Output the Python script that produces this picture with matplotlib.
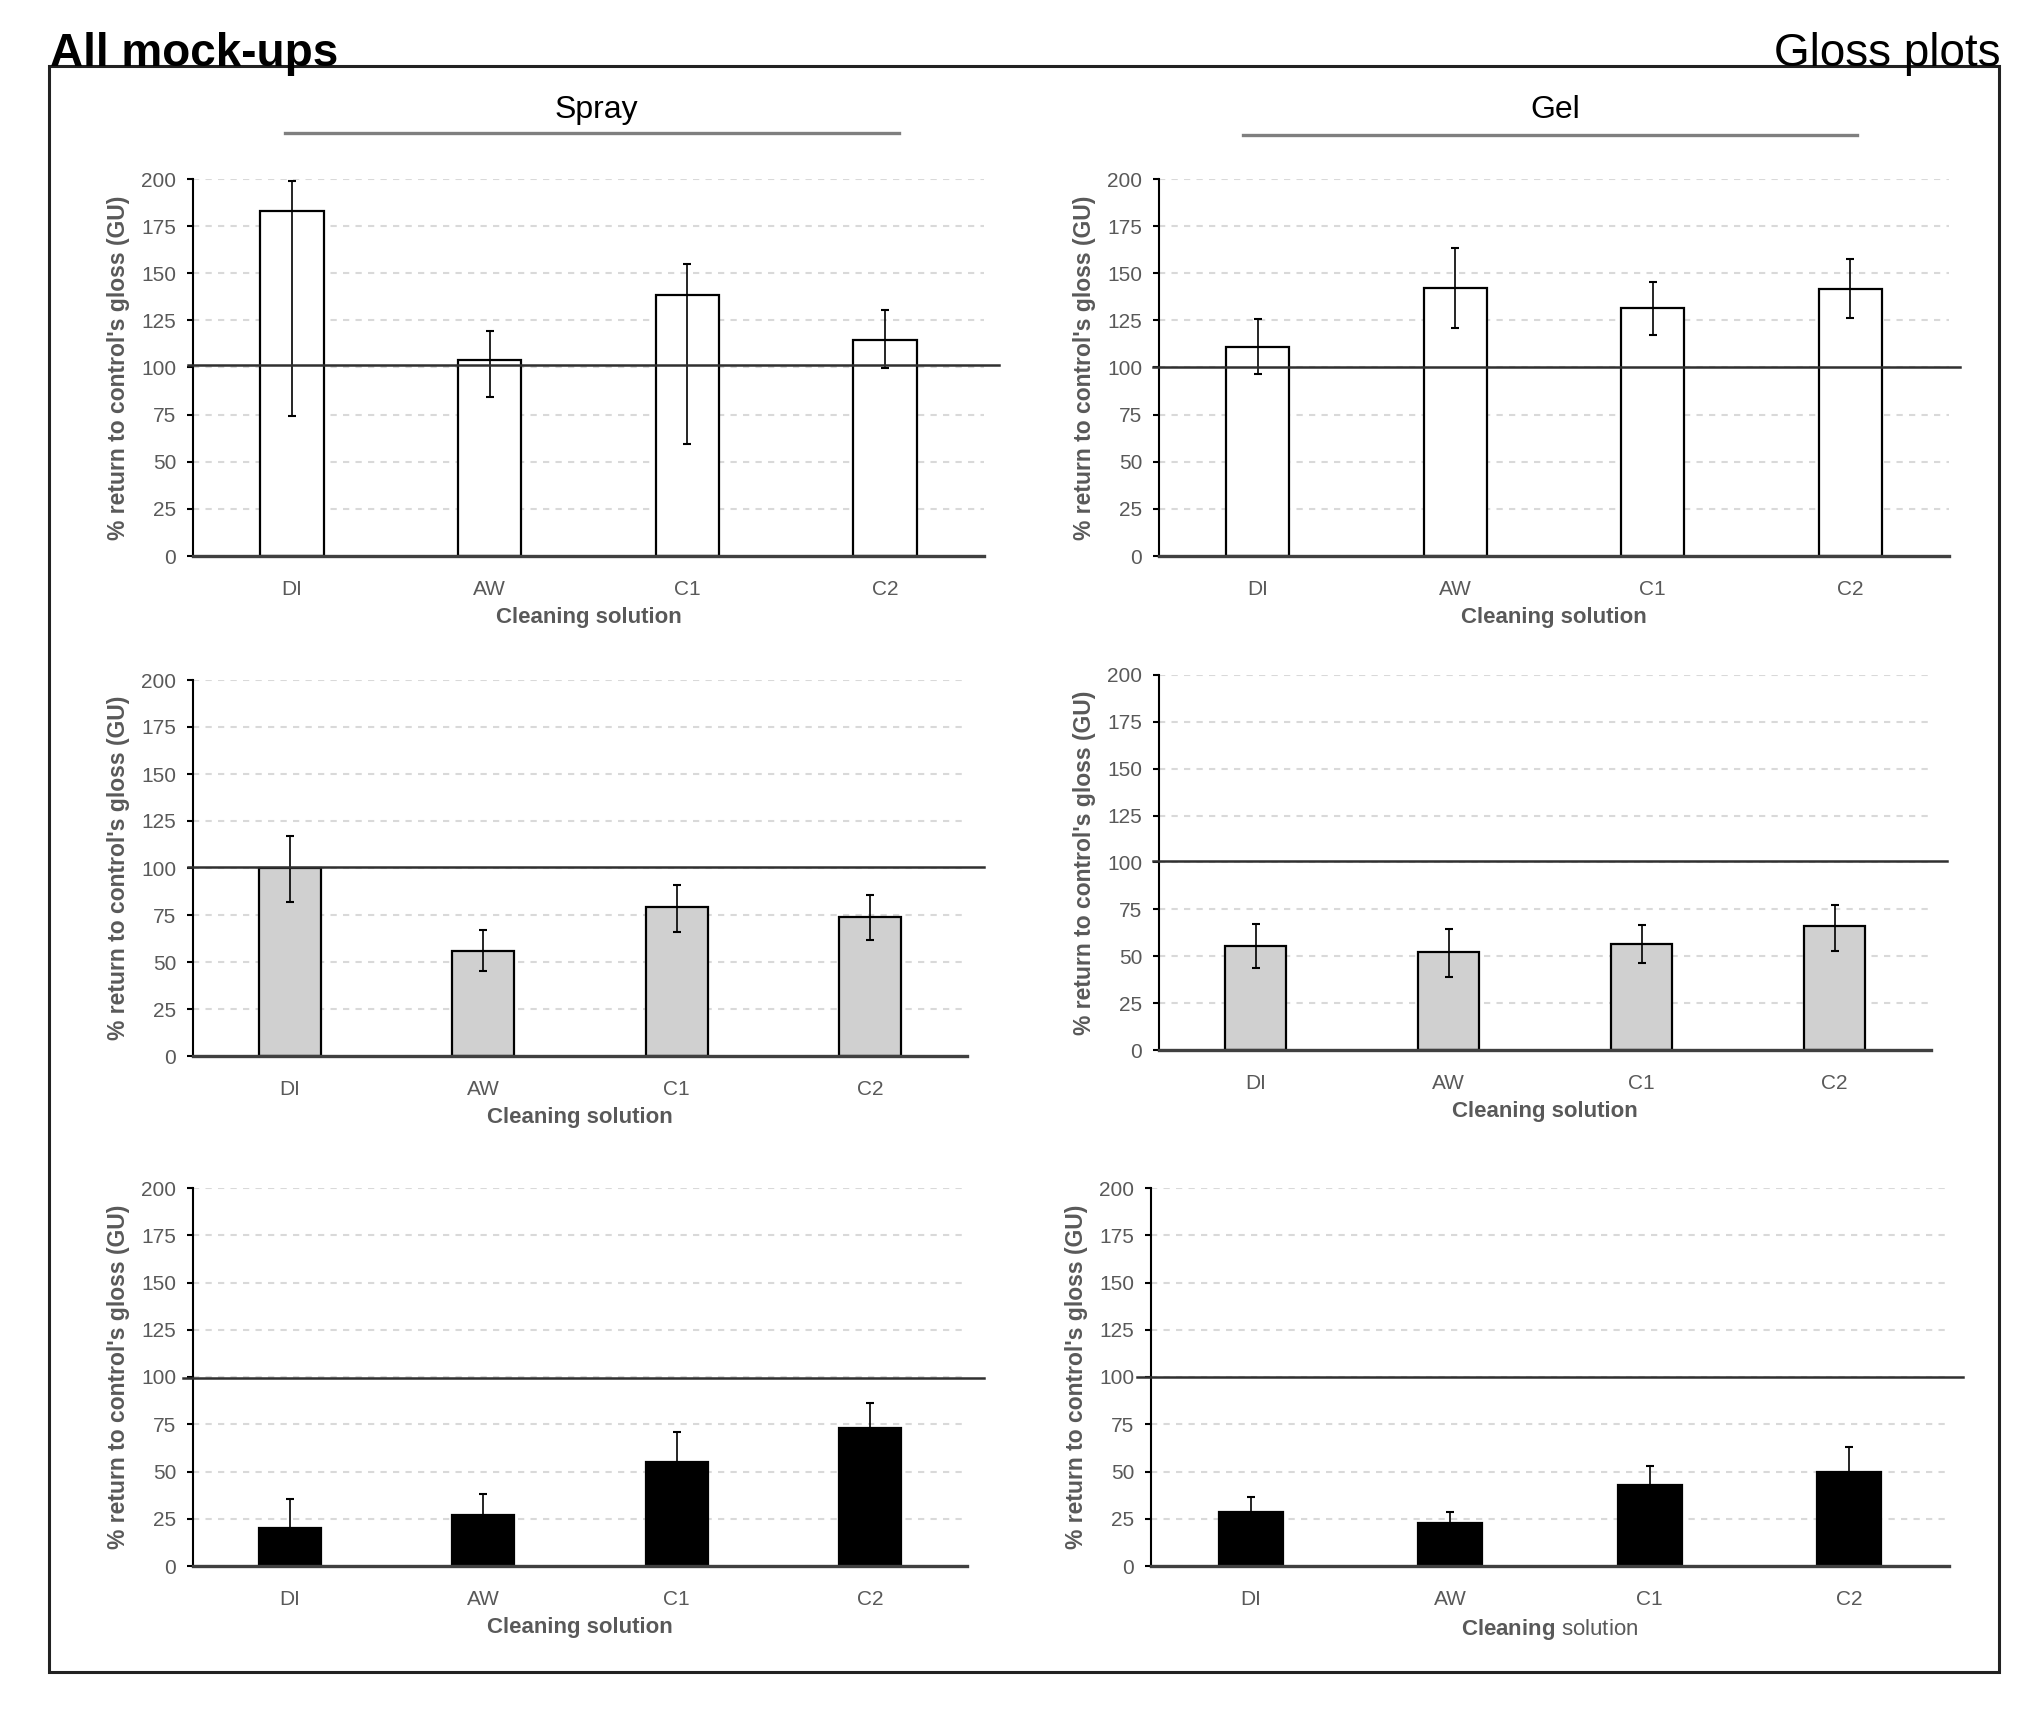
import numpy as np
import matplotlib
matplotlib.use('Agg')
import matplotlib.pyplot as plt
from matplotlib.patches import Rectangle
from matplotlib.lines import Line2D

plt.rcParams['font.family'] = ['Liberation Sans', 'DejaVu Sans']
plt.rcParams['mathtext.fontset'] = 'custom'
plt.rcParams['mathtext.rm'] = 'Liberation Sans'
plt.rcParams['mathtext.bf'] = 'Liberation Sans:bold'

# data
categories = ['DI', 'AW', 'C1', 'C2']

spray_white = [183, 104, 138.5, 114.5]
spray_white_hi = [199, 119.5, 155, 130.5]
spray_white_lo = [74.5, 84.5, 59.5, 99.5]

gel_white = [111, 142, 131.5, 141.5]
gel_white_hi = [125.5, 163.5, 145.5, 157.5]
gel_white_lo = [96.5, 121, 117, 126]

spray_grey = [100, 56, 79, 74]
spray_grey_hi = [117, 67, 91, 85.5]
spray_grey_lo = [82, 45, 66, 61.5]

gel_grey = [55.5, 52, 56.5, 66]
gel_grey_hi = [67, 64.5, 66.5, 77.5]
gel_grey_lo = [43.5, 39, 46.5, 53]

spray_black = [20, 27, 55, 73]
spray_black_hi = [35.5, 38, 71, 86.5]
spray_black_lo = [4.5, 16, 39, 59.5]

gel_black = [28.5, 22.5, 43, 50]
gel_black_hi = [36.5, 28.5, 53, 63]
gel_black_lo = [20.5, 16.5, 33, 37]

ref_levels = [101.3, 100, 100.7, 101, 99.5, 100]
yticks = [0, 25, 50, 75, 100, 125, 150, 175, 200]

W, H = 2028, 1726
fig = plt.figure(figsize=(W / 100, H / 100), dpi=100)

# panel boxes in pixels: left, right, y of 200, y of 0, ref line start/end
boxes = [
    (193, 984, 179, 556, 188, 999),
    (1159, 1949, 179, 556, 1153, 1960),
    (193, 967, 680, 1056, 188, 984),
    (1159, 1931, 675, 1050, 1153, 1947),
    (193, 967, 1188, 1566, 183, 984),
    (1151, 1949, 1188, 1566, 1137, 1963),
]
panels = [
    (spray_white, spray_white_lo, spray_white_hi, 'white'),
    (gel_white, gel_white_lo, gel_white_hi, 'white'),
    (spray_grey, spray_grey_lo, spray_grey_hi, '#d0d0d0'),
    (gel_grey, gel_grey_lo, gel_grey_hi, '#d0d0d0'),
    (spray_black, spray_black_lo, spray_black_hi, 'black'),
    (gel_black, gel_black_lo, gel_black_hi, 'black'),
]

grey_txt = '#595959'
x = np.arange(len(categories))

for i, ((l, r, ytop, ybot, rl0, rl1), (vals, lo, hi, col)) in enumerate(zip(boxes, panels)):
    w_px, h_px = r - l, ybot - ytop
    ax = fig.add_axes([l / W, 1 - ybot / H, w_px / W, h_px / H])
    vals = np.array(vals)
    yerr = [vals - np.array(lo), np.array(hi) - vals]
    ax.bar(x, vals, width=0.32, color=col, edgecolor='black', linewidth=1.6, zorder=2)
    ax.errorbar(x, vals, yerr=yerr, fmt='none', ecolor='black', elinewidth=1.2,
                capsize=3, capthick=1.5, zorder=3)
    ax.set_xlim(-0.5, 3.5)
    ax.set_ylim(0, 200)
    ax.set_yticks(yticks)
    ax.set_xticks(x)
    ax.set_xticklabels(categories)
    ax.set_axisbelow(True)
    ax.yaxis.grid(True, linestyle=(0, (3, 3)), color='#d9d9d9', linewidth=1.5)
    for s in ['top', 'right']:
        ax.spines[s].set_visible(False)
    ax.spines['left'].set_linewidth(1.5)
    ax.spines['bottom'].set_linewidth(2.4)
    ax.spines['bottom'].set_color('#404040')
    ax.tick_params(axis='y', length=4, width=1.5, pad=8, labelsize=15, labelcolor=grey_txt)
    ax.tick_params(axis='x', length=0, pad=17, labelsize=15, labelcolor=grey_txt)

    # reference line at 100 %, runs a bit past the axes
    ax.plot([(rl0 - l) / w_px, (rl1 - l) / w_px], [ref_levels[i]] * 2,
            transform=ax.get_yaxis_transform(), clip_on=False,
            color='#303030', linewidth=1.8, zorder=4)

    ax.set_ylabel("% return to control's gloss (GU)", fontsize=16.5,
                  fontweight='bold', color=grey_txt)
    ax.yaxis.set_label_coords(-63 / w_px, 0.5)
    if i == 5:
        ax.set_xlabel(r'$\bf{Cleaning}$ solution', fontsize=16, color=grey_txt)
    else:
        ax.set_xlabel('Cleaning solution', fontsize=16, fontweight='bold', color=grey_txt)
    ax.xaxis.set_label_coords(0.5, -51 / h_px)

# outer frame
fig.patches.append(Rectangle((48.5 / W, 1 - 1672 / H), 1950 / W, 1606 / H,
                             transform=fig.transFigure, fill=False,
                             edgecolor='#222222', linewidth=2.2))

fig.text(50 / W, 1 - 66 / H, 'All mock-ups', fontsize=33, fontweight='bold',
         ha='left', va='baseline')
fig.text(2000 / W, 1 - 66 / H, 'Gloss plots', fontsize=33, ha='right', va='baseline')

# group headers
for name, cx, x0, x1, ly in [('Spray', 596, 285, 899, 133), ('Gel', 1555, 1243, 1857, 135)]:
    fig.text(cx / W, 1 - 110 / H, name, fontsize=23, ha='center', va='center')
    fig.lines.append(Line2D([x0 / W, x1 / W], [1 - ly / H] * 2, transform=fig.transFigure,
                            color='#7f7f7f', linewidth=2.4))

plt.savefig('out.png', dpi=100)
plt.close()
